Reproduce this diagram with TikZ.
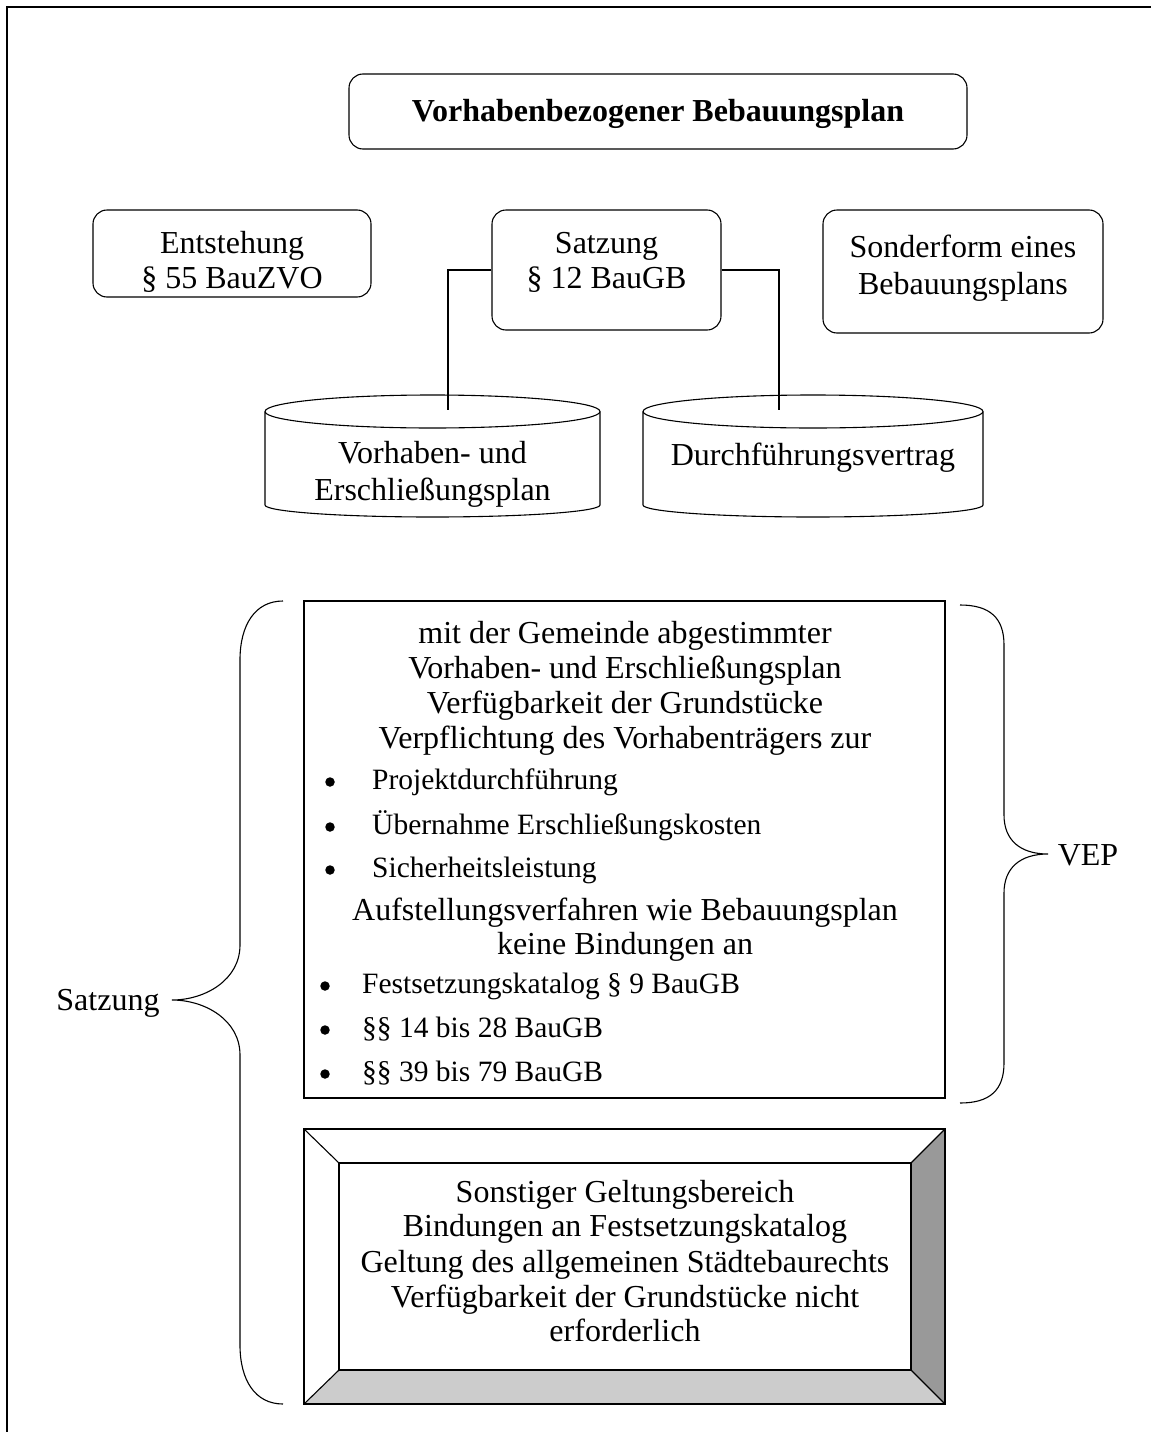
\documentclass[tikz,border=0pt]{standalone}
\usepackage{fontspec}
\setmainfont{Liberation Serif}
\begin{document}
\begin{tikzpicture}[x=1pt,y=-1pt,
  rbox/.style={draw,line width=1.1pt,rounded corners=14pt,inner sep=0pt},
  sbox/.style={draw,line width=1.1pt,inner sep=0pt},
  txt/.style={inner sep=0pt,font=\fontsize{32}{36}\selectfont,text height=0.68em,text depth=0pt},
  btxt/.style={inner sep=0pt,anchor=west,font=\fontsize{29.5}{34}\selectfont,text height=0.68em,text depth=0pt},
  bul/.style={circle,fill=black,inner sep=0pt,minimum size=9.5pt},
  conn/.style={line width=1.1pt},
  brace/.style={line width=1.1pt}]
\useasboundingbox (0,0) rectangle (1151,1432);
% frame
\draw[line width=2pt] (7.3,1432) -- (7.3,7.3) -- (1151,7.3);

% title
\node[rbox,minimum width=618pt,minimum height=75pt] (title) at (658,111.5) {};
\node[txt,font=\fontsize{32}{36}\selectfont\bfseries] (titletxt) at (658,118) {Vorhabenbezogener Bebauungsplan};

% top row boxes
\node[rbox,minimum width=278pt,minimum height=87pt] (entst) at (232,253.5) {};
\node[txt] (entst1) at (232,250) {Entstehung};
\node[txt] (entst2) at (232,285) {§ 55 BauZVO};

\node[rbox,minimum width=229pt,minimum height=120pt] (satz) at (606.5,270) {};
\node[txt] (satz1) at (606.5,250) {Satzung};
\node[txt] (satz2) at (606.5,285) {§ 12 BauGB};

\node[rbox,minimum width=280pt,minimum height=123pt] (sond) at (963,271.5) {};
\node[txt] (sond1) at (963,254) {Sonderform eines};
\node[txt] (sond2) at (963,291) {Bebauungsplans};

% cylinders
\draw[line width=1.1pt] (432.5,411.5) ellipse [x radius=167.5, y radius=16.5];
\draw[line width=1.1pt] (265,411.5) -- (265,505)
  .. controls (265,511.6) and (340,517) .. (432.5,517)
  .. controls (525,517) and (600,511.6) .. (600,505) -- (600,411.5);
\coordinate (cylLtop) at (448,410);
\node[txt] (cylL1) at (432.5,460) {Vorhaben- und};
\node[txt] (cylL2) at (432.5,497) {Erschließungsplan};

\draw[line width=1.1pt] (813,411.5) ellipse [x radius=170, y radius=16.5];
\draw[line width=1.1pt] (643,411.5) -- (643,505)
  .. controls (643,511.6) and (719,517) .. (813,517)
  .. controls (907,517) and (983,511.6) .. (983,505) -- (983,411.5);
\coordinate (cylRtop) at (779,410);
\node[txt] (cylR1) at (813,462) {Durchführungsvertrag};

% connectors
\draw[conn] (satz.west) -| (cylLtop);
\draw[conn] (satz.east) -| (cylRtop);

% main box
\node[sbox,minimum width=641pt,minimum height=497pt] (main) at (624.5,849.5) {};
\node[txt] (m1) at (625,640) {mit der Gemeinde abgestimmter};
\node[txt] (m2) at (625,675) {Vorhaben- und Erschließungsplan};
\node[txt] (m3) at (625,710) {Verfügbarkeit der Grundstücke};
\node[txt] (m4) at (625,745) {Verpflichtung des Vorhabenträgers zur};
\node[bul] (b1) at (330,782) {};
\node[btxt] (bt1) at (372,786) {Projektdurchführung};
\node[bul] (b2) at (330,827) {};
\node[btxt] (bt2) at (372,831) {Übernahme Erschließungskosten};
\node[bul] (b3) at (330,870) {};
\node[btxt] (bt3) at (372,874) {Sicherheitsleistung};
\node[txt] (m5) at (625,917) {Aufstellungsverfahren wie Bebauungsplan};
\node[txt] (m6) at (625,951) {keine Bindungen an};
\node[bul] (b4) at (325,986) {};
\node[btxt] (bt4) at (362,990) {Festsetzungskatalog § 9 BauGB};
\node[bul] (b5) at (325,1030) {};
\node[btxt] (bt5) at (362,1034) {§§ 14 bis 28 BauGB};
\node[bul] (b6) at (325,1074) {};
\node[btxt] (bt6) at (362,1078) {§§ 39 bis 79 BauGB};

% bevel box
\fill[white] (304,1129) rectangle (945,1404);
\fill[black!20] (304,1404) -- (339,1370) -- (911,1370) -- (945,1404) -- cycle;
\fill[black!40] (945,1129) -- (911,1163) -- (911,1370) -- (945,1404) -- cycle;
\draw[line width=1.1pt] (304,1129) rectangle (945,1404);
\draw[line width=1.1pt] (339,1163) rectangle (911,1370);
\draw[line width=1.1pt] (304,1129) -- (339,1163) (945,1129) -- (911,1163)
  (304,1404) -- (339,1370) (945,1404) -- (911,1370);
\node[inner sep=0pt,minimum width=572pt,minimum height=207pt] (bevel) at (625,1266.5) {};
\node[txt] (s1) at (625,1199) {Sonstiger Geltungsbereich};
\node[txt] (s2) at (625,1233) {Bindungen an Festsetzungskatalog};
\node[txt] (s3) at (625,1269) {Geltung des allgemeinen Städtebaurechts};
\node[txt] (s4) at (625,1304) {Verfügbarkeit der Grundstücke nicht};
\node[txt] (s5) at (625,1338) {erforderlich};

% braces
\draw[brace] (283,601) .. controls (255,601) and (240,625) .. (240,660) -- (240,945)
  .. controls (240,980) and (205,1000) .. (172,1000)
  .. controls (205,1000) and (240,1020) .. (240,1055) -- (240,1345)
  .. controls (240,1380) and (255,1404) .. (283,1404);
\node[txt] (satzlbl) at (108,1007) {Satzung};

\draw[brace] (960,605) .. controls (990,605) and (1004,618) .. (1004,645) -- (1004,815)
  .. controls (1004,840) and (1020,854) .. (1048,854)
  .. controls (1020,854) and (1004,868) .. (1004,893) -- (1004,1063)
  .. controls (1004,1090) and (990,1103) .. (960,1103);
\node[txt] (veplbl) at (1088,862) {VEP};
\end{tikzpicture}
\end{document}
